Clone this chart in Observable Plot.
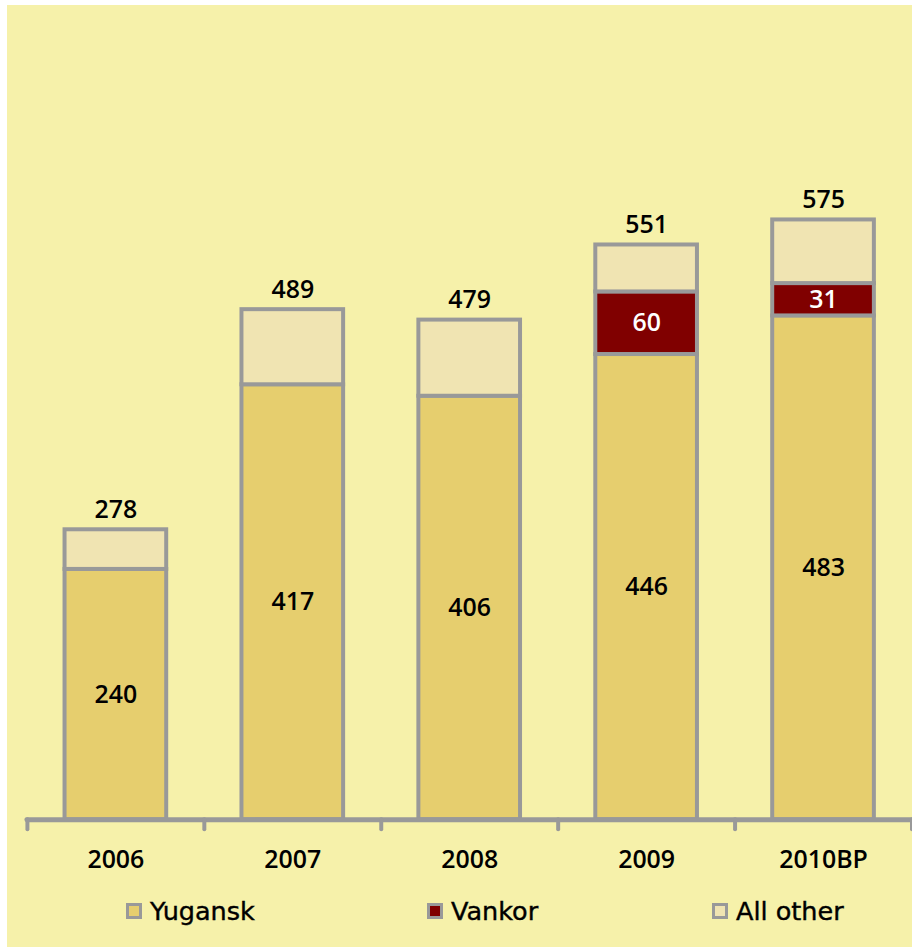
<!DOCTYPE html>
<html>
<head>
<meta charset="utf-8">
<script src="https://cdn.jsdelivr.net/npm/d3@7"></script>
<script src="https://cdn.jsdelivr.net/npm/@observablehq/plot@0.6"></script>
<style>
  html, body { margin: 0; padding: 0; background: #ffffff; width: 912px; height: 947px; overflow: hidden; }
  #bg { position: absolute; left: 7px; top: 5px; width: 905px; height: 942px; background: #f6f1aa; }
  #chart { position: absolute; left: 0; top: 0; }
  #legend { position: absolute; left: 0; top: 895px; width: 912px; height: 32px;
            font-family: "DejaVu Sans", sans-serif; font-size: 25.5px; color: #000; -webkit-text-stroke: 0.4px #000; }
  .item { position: absolute; top: 0; display: flex; align-items: center; height: 32px; }
  .sw { width: 10px; height: 10px; border: 3px solid #999; margin-right: 8px; }
</style>
</head>
<body>
<div id="bg"></div>
<div id="chart"></div>
<div id="legend"></div>
<script>
const years = ["2006", "2007", "2008", "2009", "2010BP"];
const series = ["Yugansk", "Vankor", "All other"];
const yugansk = [240, 417, 406, 446, 483];
const vankor = [0, 0, 0, 60, 31];
const allOther = [38, 72, 73, 45, 61];
const totals = [278, 489, 479, 551, 575];
const colors = ["#e6ce6e", "#800000", "#f0e4b2"];

const values = [yugansk, vankor, allOther];
const data = [];
years.forEach((yr, i) => {
  series.forEach((s, j) => {
    if (values[j][i] > 0) data.push({year: yr, series: s, value: values[j][i]});
  });
});
const totalRows = years.map((yr, i) => ({year: yr, total: totals[i]}));

const W = 915, H = 880, mL = 27, mR = 0.5, mT = 37, mB = 58;
const yMax = 750;
const step = (W - mL - mR) / years.length;
const k = (H - mT - mB) / yMax;
const font = "'Open Sans', sans-serif";

const plot = Plot.plot({
  width: W, height: H,
  marginLeft: mL, marginRight: mR, marginTop: mT, marginBottom: mB,
  style: {background: "transparent", fontFamily: font, overflow: "visible"},
  x: {domain: years, padding: 0, round: false, axis: null},
  y: {domain: [0, yMax], axis: null},
  color: {domain: series, range: colors},
  marks: [
    Plot.barY(data, Plot.stackY({
      x: "year", y: "value", fill: "series",
      stroke: "#999999", strokeWidth: 4,
      insetLeft: 37.75, insetRight: 37.75
    })),
    Plot.text(data, Plot.stackY({
      x: "year", y: "value", z: "series",
      text: d => d.series === "Yugansk" ? String(d.value) : "",
      fill: "#000", fontSize: 25, fontWeight: 600
    })),
    Plot.text(data, Plot.stackY({
      x: "year", y: "value", z: "series",
      text: d => d.series === "Vankor" ? String(d.value) : "",
      fill: "#ffffff", fontSize: 25, fontWeight: 600
    })),
    Plot.text(totalRows, {
      x: "year", y: "total", text: d => String(d.total),
      fill: "#000", fontSize: 25, fontWeight: 600, dy: -20
    }),
    Plot.ruleY([0], {stroke: "#999999", strokeWidth: 5, strokeLinecap: "round"}),
    Plot.ruleX(years, {x: d => d, y1: 0, y2: -10 / k, dx: -step / 2,
      stroke: "#999999", strokeWidth: 4, strokeLinecap: "round"}),
    Plot.ruleX([years[years.length - 1]], {x: d => d, y1: 0, y2: -10 / k, dx: step / 2,
      stroke: "#999999", strokeWidth: 4, strokeLinecap: "round"}),
    Plot.axisX({tickSize: 0, tickPadding: 31, fontSize: 25, fontWeight: 600, fill: "#000", label: null})
  ]
});
document.getElementById("chart").appendChild(plot);

const legendLeft = [126, 427, 712];
const legend = document.getElementById("legend");
series.forEach((s, i) => {
  const item = document.createElement("div");
  item.className = "item";
  item.style.left = legendLeft[i] + "px";
  const sw = document.createElement("div");
  sw.className = "sw";
  sw.style.background = colors[i];
  const t = document.createElement("span");
  t.textContent = s;
  item.appendChild(sw);
  item.appendChild(t);
  legend.appendChild(item);
});
</script>
</body>
</html>
